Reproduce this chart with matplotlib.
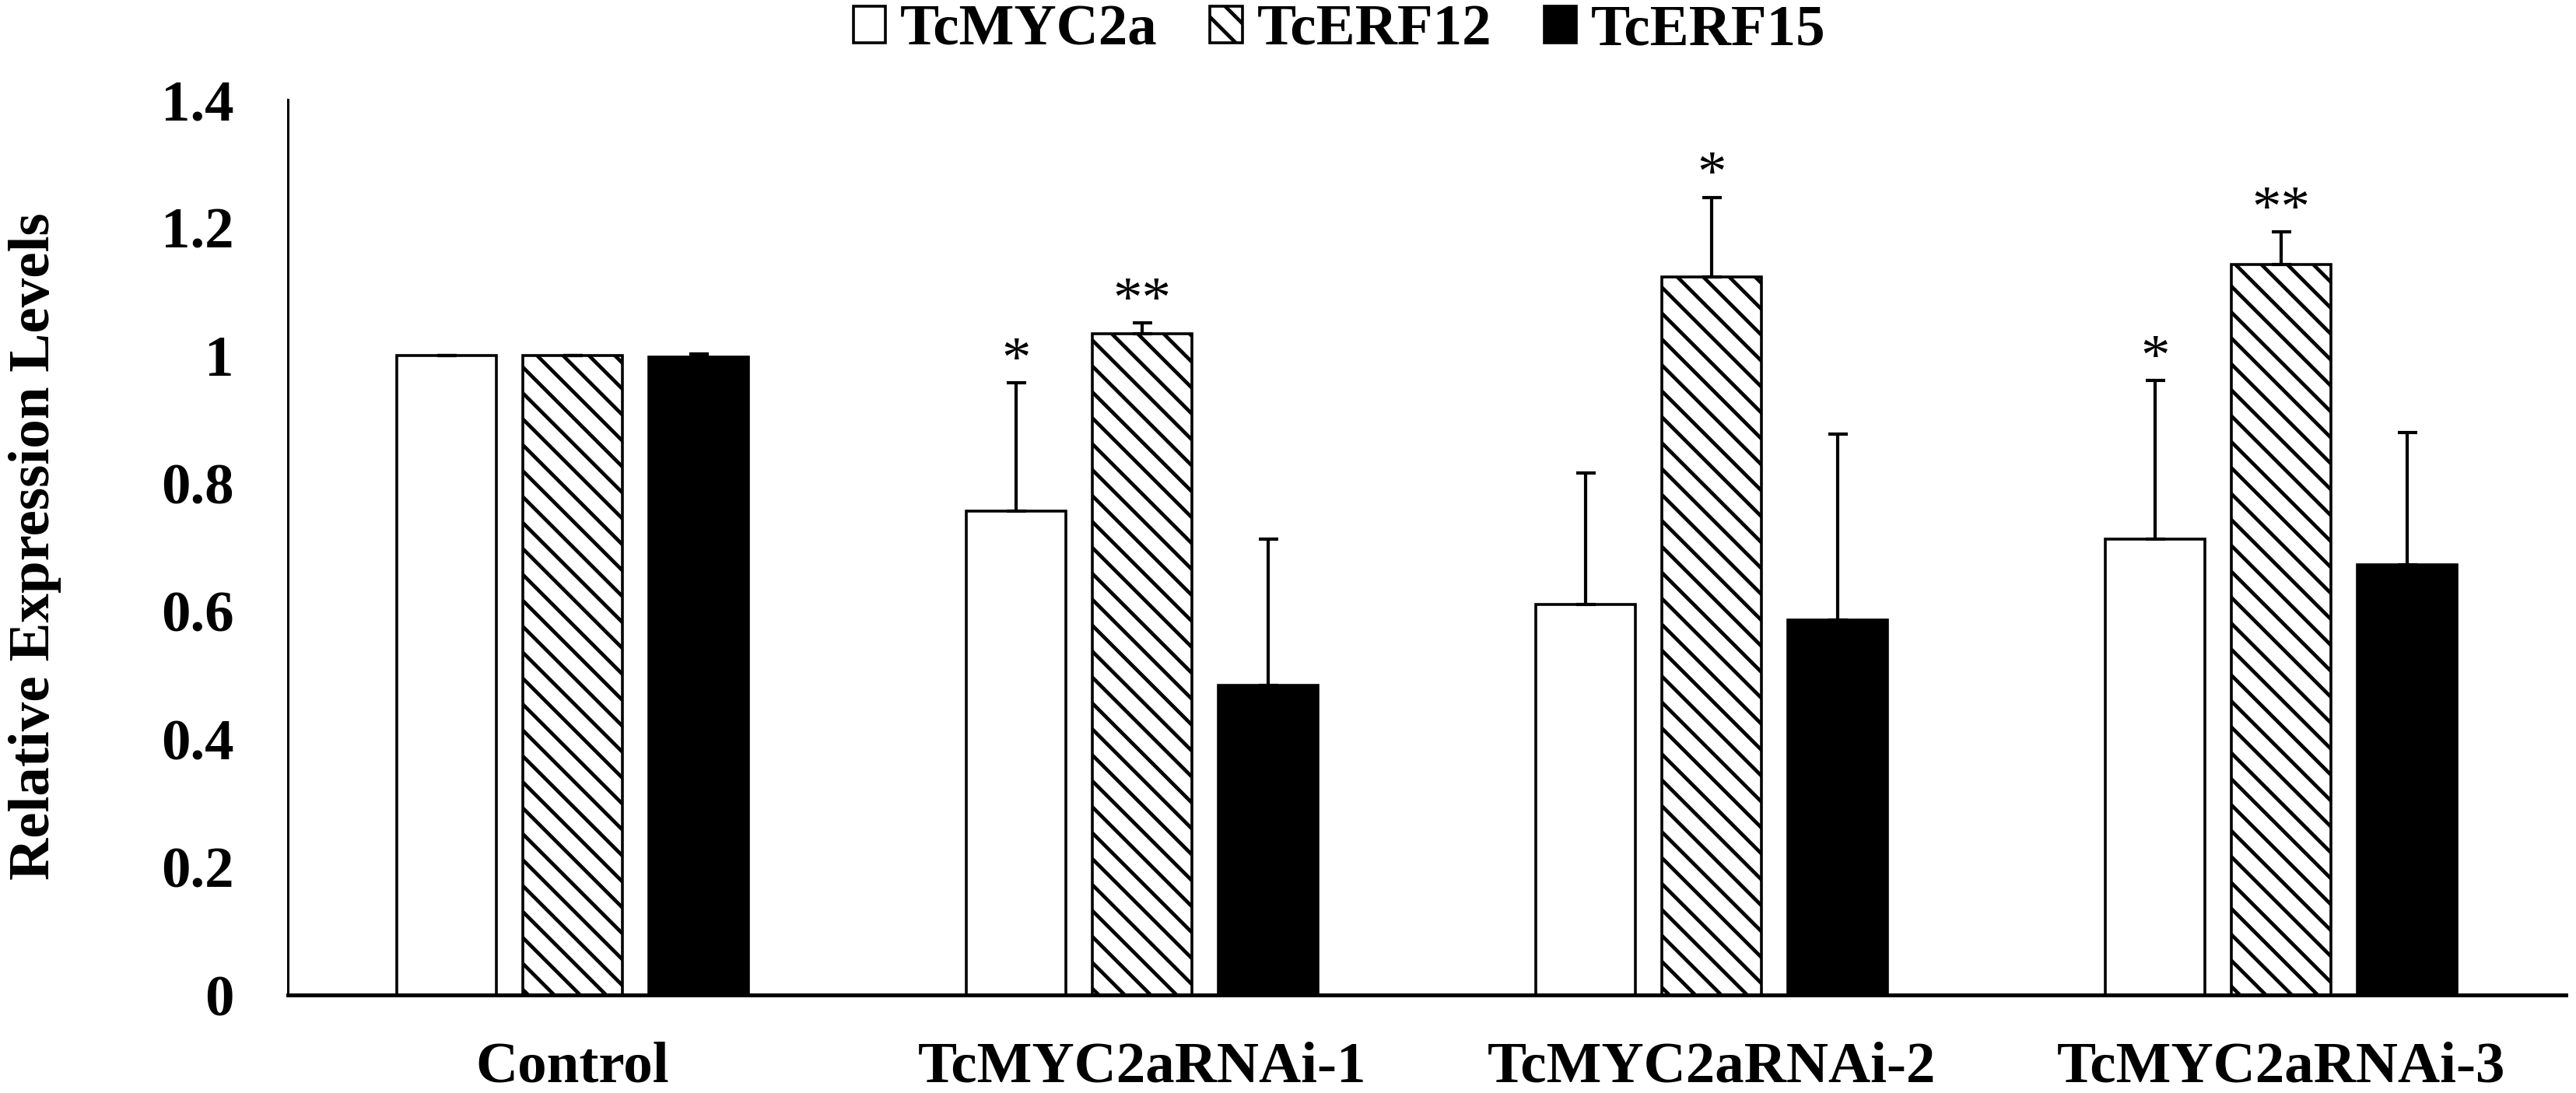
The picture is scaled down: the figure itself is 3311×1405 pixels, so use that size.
import numpy as np
import matplotlib
matplotlib.use("Agg")
import matplotlib.pyplot as plt
from matplotlib.patches import Patch

plt.rcParams['font.family'] = ['Liberation Serif', 'DejaVu Serif']
plt.rcParams['hatch.linewidth'] = 3.4
plt.rcParams['hatch.color'] = 'black'

categories = ['Control', 'TcMYC2aRNAi-1', 'TcMYC2aRNAi-2', 'TcMYC2aRNAi-3']
series = ['TcMYC2a', 'TcERF12', 'TcERF15']

myc2a = [1.0, 0.756, 0.611, 0.713]
myc2a_err = [0.0, 0.201, 0.205, 0.248]
erf12 = [1.0, 1.034, 1.123, 1.142]
erf12_err = [0.0, 0.017, 0.124, 0.051]
erf15 = [0.997, 0.484, 0.586, 0.673]
erf15_err = [0.005, 0.229, 0.291, 0.207]

# significance marks: (category index, series index, label)
stars = [(1, 0, '*'), (1, 1, '**'), (2, 1, '*'), (3, 0, '*'), (3, 1, '**')]

yticks = [0, 0.2, 0.4, 0.6, 0.8, 1.0, 1.2, 1.4]
ytick_labels = ['0', '0.2', '0.4', '0.6', '0.8', '1', '1.2', '1.4']

W, H = 3311, 1405
fig = plt.figure(figsize=(W / 100, H / 100), dpi=100)
ax = fig.add_axes([370 / W, 1 - 1279 / H, 2928 / W, (1279 - 128) / H])

x = np.arange(len(categories))
width = 0.175
offset = 0.2213
vals = [myc2a, erf12, erf15]
errs = [myc2a_err, erf12_err, erf15_err]
faces = ['white', 'white', 'black']
hatches = [None, '\\', None]

for i in range(3):
    pos = x + (i - 1) * offset
    ax.bar(pos, vals[i], width, color=faces[i], edgecolor='black',
           linewidth=2.6, hatch=hatches[i], zorder=2)
    up = np.array(errs[i])
    ax.errorbar(pos, vals[i], yerr=[np.zeros_like(up), up], fmt='none',
                ecolor='black', elinewidth=3, capsize=9, capthick=3, zorder=3)

for ci, si, lab in stars:
    top = vals[si][ci] + errs[si][ci]
    ax.annotate(lab, (x[ci] + (si - 1) * offset, top), xytext=(0, 6),
                textcoords='offset points', ha='center', va='baseline',
                fontsize=54)

ax.set_xlim(-0.5, len(categories) - 0.5)
ax.set_ylim(0, 1.4)
ax.set_yticks(yticks)
ax.set_yticklabels(ytick_labels)
ax.set_xticks(x)
ax.set_xticklabels(categories)
ax.tick_params(axis='y', length=0, pad=50, labelsize=54)
ax.tick_params(axis='x', length=0, pad=43, labelsize=54)
for lab in ax.get_xticklabels() + ax.get_yticklabels():
    lab.set_fontweight('bold')

ax.spines['top'].set_visible(False)
ax.spines['right'].set_visible(False)
ax.spines['left'].set_linewidth(2.2)
ax.spines['bottom'].set_linewidth(3.6)
ax.spines['bottom'].set_zorder(4)

fig.text(45 / W, 0.5, 'Relative Expression Levels', rotation=90,
         ha='center', va='center', fontsize=54, fontweight='bold')

handles = [Patch(facecolor=faces[i], edgecolor='black', linewidth=2.6,
                 hatch=hatches[i], label=series[i]) for i in range(3)]
fig.legend(handles=handles, loc='center', bbox_to_anchor=(0.52, 1 - 40 / H),
           ncol=3, frameon=False, handlelength=0.55, handleheight=0.6,
           handletextpad=0.25, columnspacing=0.9,
           prop={'size': 54, 'weight': 'bold'})

fig.savefig('out.png', dpi=100)
